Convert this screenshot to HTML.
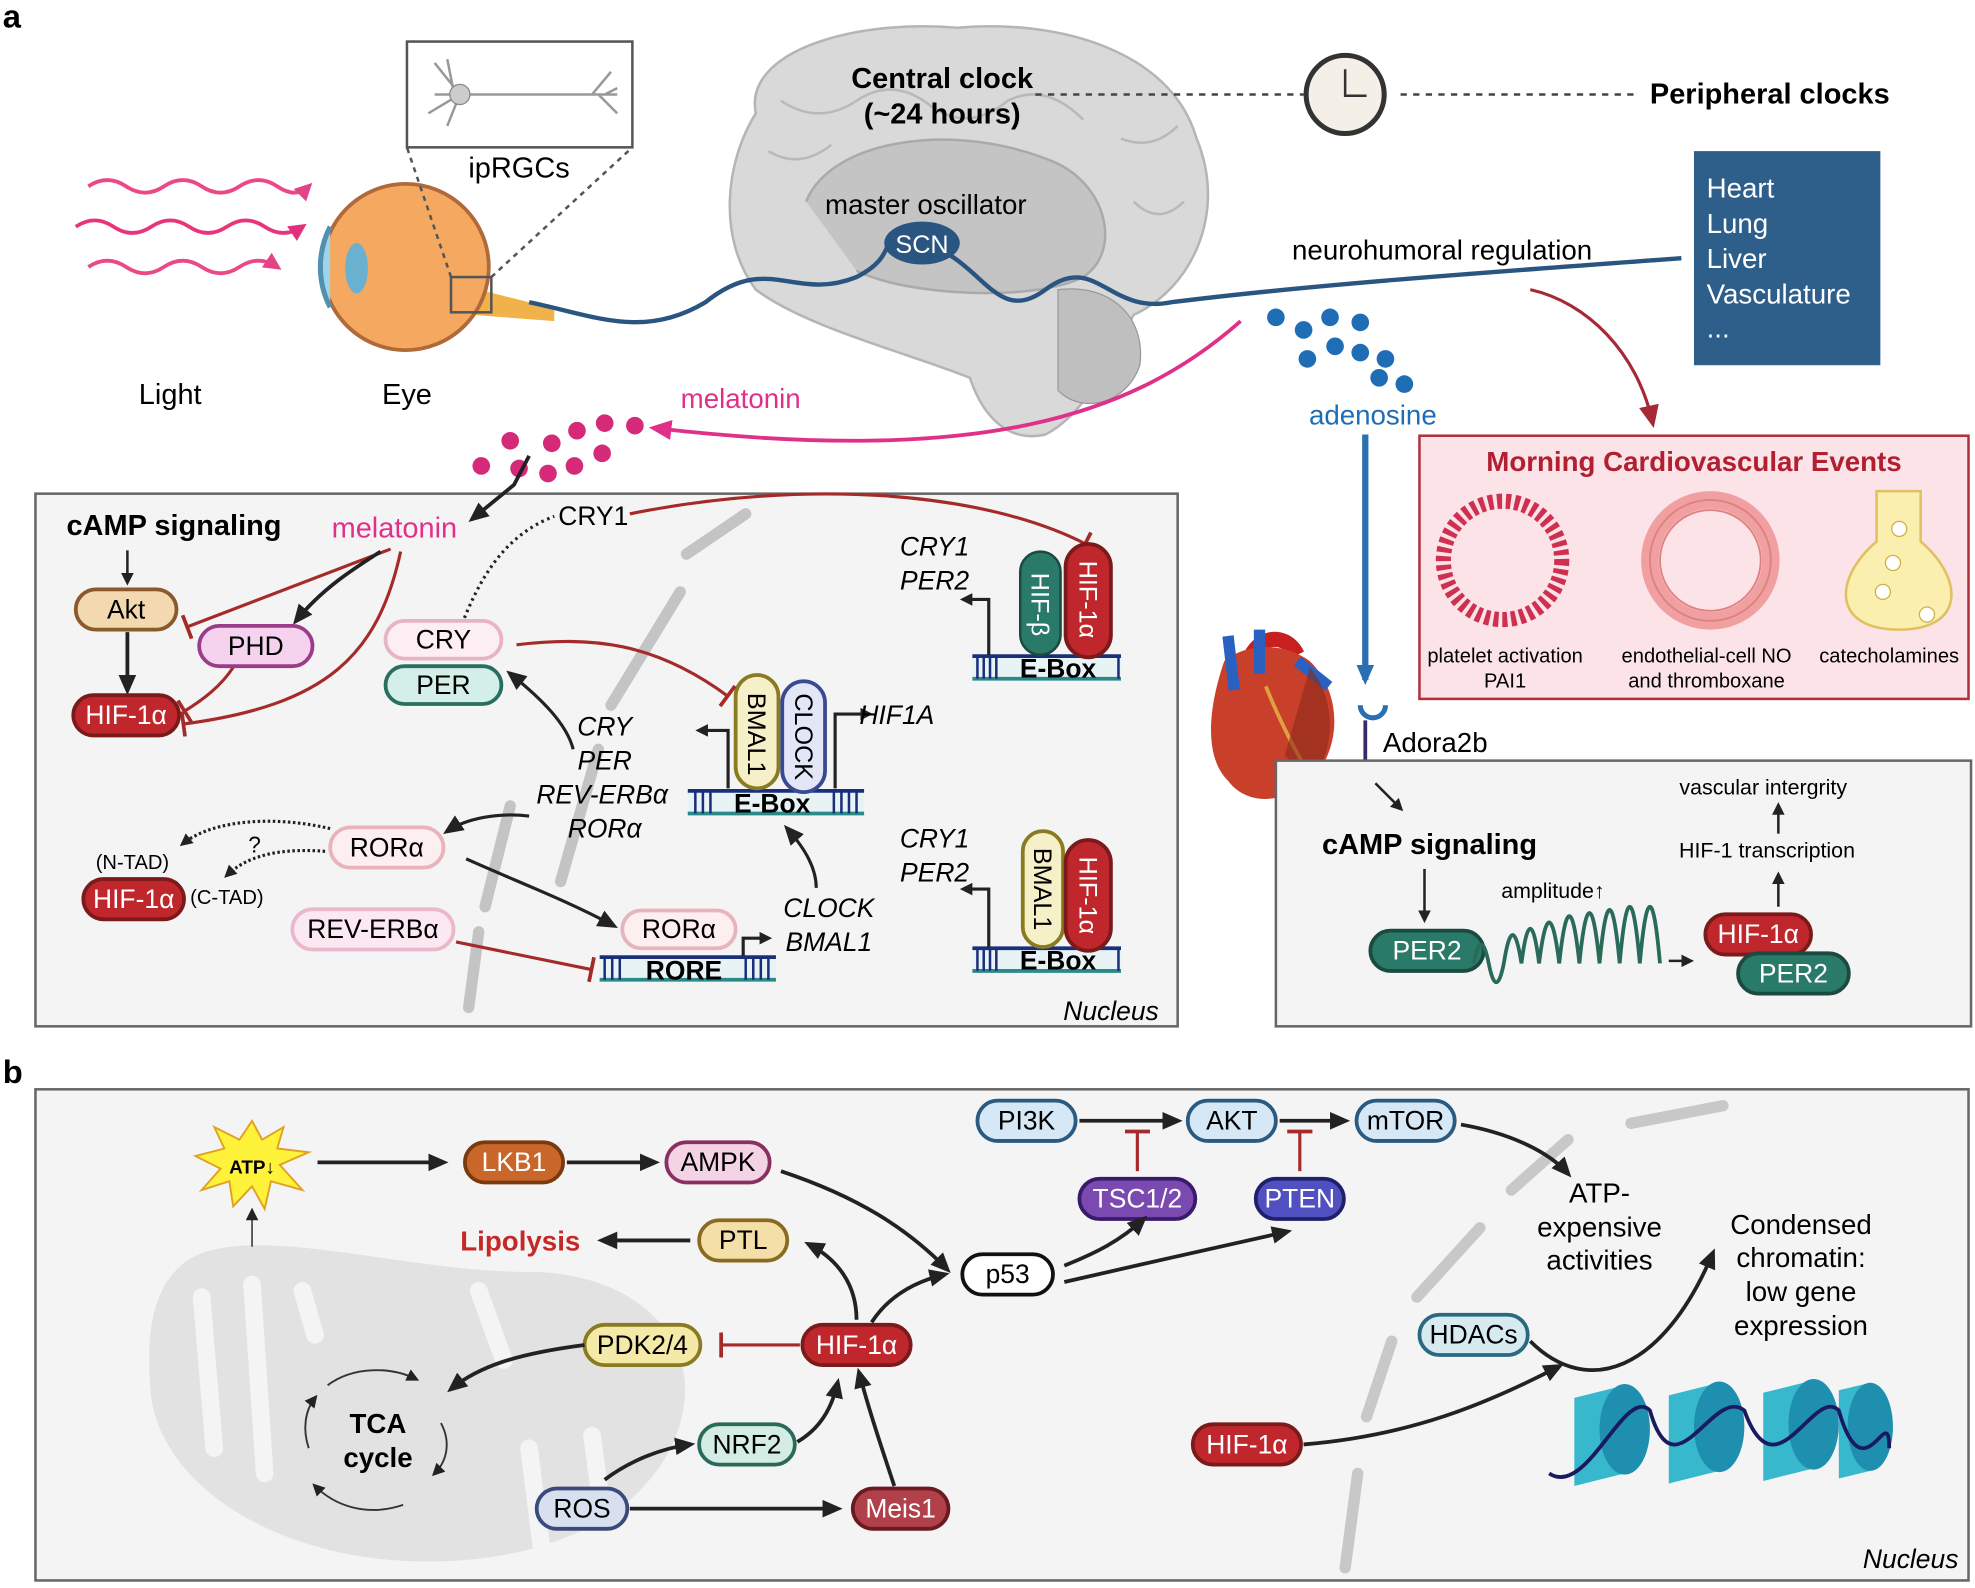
<!DOCTYPE html>
<html><head><meta charset="utf-8"><style>
html,body{margin:0;padding:0;background:#fff}
svg{display:block}
text{font-family:"Liberation Sans",sans-serif}
</style></head><body>
<svg width="1975" height="1588" viewBox="0 0 1568 1261" xmlns="http://www.w3.org/2000/svg">
<defs>
<marker id="ab" markerWidth="10" markerHeight="10" refX="7" refY="5" orient="auto" markerUnits="userSpaceOnUse"><path d="M0,0 L10,5 L0,10 z" fill="#222"/></marker>
<marker id="abig" markerWidth="16" markerHeight="16" refX="12" refY="8" orient="auto" markerUnits="userSpaceOnUse"><path d="M0,1 L16,8 L0,15 z" fill="#222"/></marker>
<marker id="ar" markerWidth="18" markerHeight="18" refX="13" refY="9" orient="auto" markerUnits="userSpaceOnUse"><path d="M0,1 L18,9 L0,17 z" fill="#a52a35"/></marker>
<marker id="ap" markerWidth="18" markerHeight="18" refX="13" refY="9" orient="auto" markerUnits="userSpaceOnUse"><path d="M0,1 L18,9 L0,17 z" fill="#e0308a"/></marker>
<marker id="apk" markerWidth="14" markerHeight="14" refX="10" refY="7" orient="auto" markerUnits="userSpaceOnUse"><path d="M0,0 L14,7 L0,14 z" fill="#e0307a"/></marker>
<marker id="abl" markerWidth="16" markerHeight="16" refX="12" refY="8" orient="auto" markerUnits="userSpaceOnUse"><path d="M0,1 L16,8 L0,15 z" fill="#2a6fb0"/></marker>
<marker id="ib" markerWidth="4" markerHeight="20" refX="2" refY="10" orient="auto" markerUnits="userSpaceOnUse"><rect x="0" y="0" width="3" height="20" fill="#a52a2a"/></marker>
</defs>

<text x="2" y="22" font-size="26" font-weight="bold">a</text>
<text x="2" y="860" font-size="26" font-weight="bold">b</text>

<g fill="none" stroke-width="3" stroke="#e8357a">
<path d="M70,148 q15,-10 30,0 t30,0 t30,0 t30,0 t30,0 t25,0" marker-end="url(#apk)" opacity="0.9"/>
<path d="M60,180 q15,-10 30,0 t30,0 t30,0 t30,0 t30,0 t30,0" marker-end="url(#apk)"/>
<path d="M70,212 q15,-10 30,0 t30,0 t30,0 t30,0 t30,0" marker-end="url(#apk)" opacity="0.9"/>
</g>
<text x="135" y="321" font-size="23" text-anchor="middle">Light</text>

<path d="M380,230 L440,245 L440,255 L375,250 z" fill="#f2b24a"/>
<circle cx="322" cy="212" r="66" fill="#f4a860" stroke="#b06a3a" stroke-width="3"/>
<path d="M262,180 a70,70 0 0 0 0,64" fill="#9fd4e8" stroke="#5090b0" stroke-width="4"/>
<ellipse cx="283" cy="213" rx="9" ry="20" fill="#6ab0d0"/>
<rect x="358" y="220" width="32" height="28" fill="none" stroke="#555" stroke-width="2"/>
<line x1="358" y1="220" x2="323" y2="117" stroke="#555" stroke-dasharray="4,4" stroke-width="2"/>
<line x1="390" y1="220" x2="502" y2="117" stroke="#555" stroke-dasharray="4,4" stroke-width="2"/>
<rect x="323" y="33" width="179" height="84" fill="#fff" stroke="#555" stroke-width="2"/>
<g stroke="#999" stroke-width="2" fill="none">
<path d="M345,75 L490,75 M365,75 l-20,-25 M365,75 l-25,15 M365,75 l-10,25 M360,72 l-5,-25 M470,75 l15,-18 M475,75 l15,15 M480,75 l10,-5"/>
</g>
<circle cx="365" cy="75" r="8" fill="#ccc" stroke="#888"/>
<text x="412" y="141" font-size="23" text-anchor="middle">ipRGCs</text>
<text x="323" y="321" font-size="23" text-anchor="middle">Eye</text>

<path d="M600,90 C590,40 680,15 760,22 C840,15 930,40 950,110 C975,170 945,230 900,250 C880,290 860,330 830,345 C800,352 780,330 770,300 C720,280 640,260 600,230 C570,190 575,130 600,90 z" fill="#d9d9d9" stroke="#b5b5b5" stroke-width="2"/>
<path d="M640,160 C660,110 760,95 840,130 C880,150 890,200 860,220 C820,240 720,235 680,215" fill="#c4c4c4" stroke="#aaa" stroke-width="2"/>
<path d="M840,230 C880,225 910,250 905,290 C895,320 860,330 840,310 z" fill="#bfbfbf" stroke="#999"/>
<g stroke="#b9b9b9" stroke-width="2" fill="none">
<path d="M620,80 q30,20 60,0 q30,-20 60,5 q30,20 60,-5 q30,-15 60,15"/>
<path d="M610,120 q25,15 50,-5"/><path d="M900,160 q20,20 40,0"/><path d="M890,110 q25,10 45,-10"/>
</g>
<text x="748" y="70" font-size="23" font-weight="bold" text-anchor="middle">Central clock</text>
<text x="748" y="98" font-size="23" font-weight="bold" text-anchor="middle">(~24 hours)</text>
<line x1="822" y1="75" x2="1035" y2="75" stroke="#444" stroke-width="2" stroke-dasharray="5,5"/>
<circle cx="1068" cy="75" r="31" fill="#f4f0e8" stroke="#333" stroke-width="4"/>
<path d="M1068,55 L1068,76 L1085,76" stroke="#333" stroke-width="2" fill="none"/>
<line x1="1112" y1="75" x2="1300" y2="75" stroke="#444" stroke-width="2" stroke-dasharray="5,5"/>
<text x="1310" y="82" font-size="23" font-weight="bold">Peripheral clocks</text>
<text x="735" y="170" font-size="22" text-anchor="middle">master oscillator</text>

<path d="M420,240 C470,250 510,270 560,240 C610,200 630,240 680,220 C720,200 690,180 732,193 C780,205 790,260 830,230 C870,200 880,250 930,240 C1050,225 1200,215 1335,205" fill="none" stroke="#2a5580" stroke-width="3.5"/>
<ellipse cx="732" cy="193" rx="30" ry="17" fill="#2a5580"/>
<text x="732" y="201" font-size="20" fill="#fff" text-anchor="middle">SCN</text>
<text x="1145" y="206" font-size="22" text-anchor="middle">neurohumoral regulation</text>

<rect x="1345" y="120" width="148" height="170" fill="#2d5f8a"/>
<g font-size="22" fill="#fff"><text x="1355" y="157">Heart</text><text x="1355" y="185">Lung</text><text x="1355" y="213">Liver</text><text x="1355" y="241">Vasculature</text><text x="1355" y="268">...</text></g>
<path d="M1215,230 C1260,240 1300,280 1312,335" fill="none" stroke="#a52a35" stroke-width="2.5" marker-end="url(#ar)"/>

<g fill="#1e6db5">
<circle cx="1013" cy="252" r="7"/><circle cx="1035" cy="262" r="7"/><circle cx="1056" cy="252" r="7"/><circle cx="1080" cy="256" r="7"/>
<circle cx="1038" cy="285" r="7"/><circle cx="1060" cy="275" r="7"/><circle cx="1080" cy="280" r="7"/><circle cx="1100" cy="285" r="7"/>
<circle cx="1095" cy="300" r="7"/><circle cx="1115" cy="305" r="7"/>
</g>
<text x="1090" y="337" font-size="22" fill="#1e6db5" text-anchor="middle">adenosine</text>
<line x1="1084" y1="345" x2="1084" y2="540" stroke="#2a6fb0" stroke-width="5" marker-end="url(#abl)"/>

<path d="M985,255 C900,330 780,370 520,340" fill="none" stroke="#e0308a" stroke-width="3" marker-end="url(#ap)"/>
<text x="588" y="324" font-size="22" fill="#e0308a" text-anchor="middle">melatonin</text>
<g fill="#d42a78">
<circle cx="405" cy="350" r="7"/><circle cx="438" cy="352" r="7"/><circle cx="458" cy="342" r="7"/><circle cx="480" cy="336" r="7"/><circle cx="504" cy="338" r="7"/>
<circle cx="382" cy="370" r="7"/><circle cx="412" cy="372" r="7"/><circle cx="435" cy="376" r="7"/><circle cx="456" cy="370" r="7"/><circle cx="478" cy="360" r="7"/>
</g>

<rect x="28" y="392" width="907" height="423" fill="#f4f4f4" stroke="#666" stroke-width="2"/>
<g stroke="#c4c4c4" stroke-width="9" stroke-linecap="round" fill="none">
<path d="M592,408 L545,440"/><path d="M540,470 L485,560"/><path d="M475,595 L445,700"/><path d="M405,640 L385,720"/>
</g>
<line x1="380" y1="740" x2="372" y2="800" stroke="#c4c4c4" stroke-width="9" stroke-linecap="round"/>
<text x="920" y="810" font-size="21" font-style="italic" text-anchor="end">Nucleus</text>

<text x="138" y="425" font-size="23" font-weight="bold" text-anchor="middle">cAMP signaling</text>
<text x="313" y="427" font-size="23" fill="#e0308a" text-anchor="middle">melatonin</text>
<path d="M420,362 L408,385 L375,412" fill="none" stroke="#222" stroke-width="3" marker-end="url(#abig)"/>
<line x1="101" y1="437" x2="101" y2="462" stroke="#222" stroke-width="2" marker-end="url(#ab)"/>
<line x1="101" y1="502" x2="101" y2="548" stroke="#222" stroke-width="3" marker-end="url(#abig)"/>
<path d="M310,436 L148,498" stroke="#a52a2a" stroke-width="2.5" fill="none" marker-end="url(#ib)"/>
<path d="M302,438 C280,452 255,468 235,493" stroke="#222" stroke-width="3" fill="none" marker-end="url(#abig)"/>
<path d="M318,438 C300,520 260,560 145,575" stroke="#a52a2a" stroke-width="2.5" fill="none" marker-end="url(#ib)"/>
<path d="M185,530 C175,545 162,555 146,565" stroke="#a52a2a" stroke-width="2.5" fill="none" marker-end="url(#ib)"/>

<path d="M365,500 C380,460 400,425 440,410" fill="none" stroke="#222" stroke-width="2.5" stroke-dasharray="2,3"/>
<text x="471" y="417" font-size="21" text-anchor="middle">CRY1</text>
<path d="M500,408 C640,380 780,390 862,432" fill="none" stroke="#a52a2a" stroke-width="2.5" marker-end="url(#ib)"/>

<g font-size="21" text-anchor="middle">
<rect x="60" y="468" width="80" height="32" rx="16" fill="#f3d9b0" stroke="#8a5a2a" stroke-width="3"/><text x="100" y="491">Akt</text>
<rect x="58" y="552" width="84" height="32" rx="16" fill="#c0272d" stroke="#7a1a1a" stroke-width="3"/><text x="100" y="575" fill="#fff">HIF-1α</text>
<rect x="158" y="497" width="90" height="32" rx="16" fill="#f5d3ee" stroke="#9b3c8a" stroke-width="3"/><text x="203" y="520">PHD</text>
<rect x="306" y="493" width="92" height="30" rx="15" fill="#fdeef3" stroke="#e8b4c4" stroke-width="3"/><text x="352" y="515">CRY</text>
<rect x="306" y="529" width="92" height="30" rx="15" fill="#d4efe8" stroke="#2a6e60" stroke-width="3"/><text x="352" y="551">PER</text>
<rect x="262" y="657" width="90" height="32" rx="16" fill="#fdeef0" stroke="#e8b4bc" stroke-width="3"/><text x="307" y="680">RORα</text>
<rect x="232" y="722" width="128" height="32" rx="16" fill="#fbe8f0" stroke="#eab8cc" stroke-width="3"/><text x="296" y="745">REV-ERBα</text>
<rect x="66" y="698" width="80" height="32" rx="16" fill="#c0272d" stroke="#7a1a1a" stroke-width="3"/><text x="106" y="721" fill="#fff">HIF-1α</text>
<rect x="494" y="723" width="90" height="30" rx="15" fill="#fdeef0" stroke="#e8b4bc" stroke-width="3"/><text x="539" y="745">RORα</text>
</g>
<text x="105" y="690" font-size="16" text-anchor="middle">(N-TAD)</text>
<text x="180" y="718" font-size="16" text-anchor="middle">(C-TAD)</text>
<text x="202" y="677" font-size="18" text-anchor="middle">?</text>
<path d="M262,658 C220,648 170,650 145,670" fill="none" stroke="#222" stroke-width="2.5" stroke-dasharray="2,2" marker-end="url(#ab)"/>
<path d="M258,676 C230,674 200,676 180,695" fill="none" stroke="#222" stroke-width="2.5" stroke-dasharray="2,2" marker-end="url(#ab)"/>

<g>
<rect x="546" y="628" width="140" height="18" fill="#e8f3f6"/>
<line x1="546" y1="628" x2="686" y2="628" stroke="#1a2f7a" stroke-width="3"/>
<line x1="546" y1="646" x2="686" y2="646" stroke="#2a8a8a" stroke-width="3"/>
<g stroke="#1a2f7a" stroke-width="2"><path d="M552,628v18M558,628v18M564,628v18M662,628v18M668,628v18M674,628v18M680,628v18"/></g>
<text x="613" y="645" font-size="21" font-weight="bold" text-anchor="middle">E-Box</text>
<rect x="584" y="536" width="34" height="90" rx="17" fill="#f5f0c8" stroke="#8a7a20" stroke-width="3"/>
<text transform="translate(594,583) rotate(90)" font-size="20" text-anchor="middle">BMAL1</text>
<rect x="621" y="541" width="34" height="88" rx="17" fill="#e2e6f7" stroke="#3a4a90" stroke-width="3"/>
<text transform="translate(631,585) rotate(90)" font-size="20" text-anchor="middle">CLOCK</text>
<path d="M578,626 L578,580 L555,580" fill="none" stroke="#222" stroke-width="2.5" marker-end="url(#ab)"/>
<path d="M663,626 L663,567 L690,567" fill="none" stroke="#222" stroke-width="2.5" marker-end="url(#ab)"/>
<text x="712" y="575" font-size="21" font-style="italic" text-anchor="middle">HIF1A</text>

<rect x="772" y="521" width="118" height="18" fill="#e8f3f6"/>
<line x1="772" y1="521" x2="890" y2="521" stroke="#1a2f7a" stroke-width="3"/>
<line x1="772" y1="539" x2="890" y2="539" stroke="#2a8a8a" stroke-width="3"/>
<g stroke="#1a2f7a" stroke-width="2"><path d="M776,521v18M781,521v18M786,521v18M791,521v18M888,521v18"/></g>
<text x="840" y="538" font-size="21" font-weight="bold" text-anchor="middle">E-Box</text>
<rect x="810" y="438" width="32" height="82" rx="16" fill="#2a7a6a" stroke="#1a4a40" stroke-width="2"/>
<text transform="translate(819,480) rotate(90)" font-size="20" fill="#fff" text-anchor="middle">HIF-β</text>
<rect x="846" y="432" width="36" height="90" rx="18" fill="#c0272d" stroke="#7a1a1a" stroke-width="3"/>
<text transform="translate(857,476) rotate(90)" font-size="20" fill="#fff" text-anchor="middle">HIF-1α</text>
<path d="M785,520 L785,476 L765,476" fill="none" stroke="#222" stroke-width="2.5" marker-end="url(#ab)"/>
<text x="742" y="441" font-size="21" font-style="italic" text-anchor="middle">CRY1</text>
<text x="742" y="468" font-size="21" font-style="italic" text-anchor="middle">PER2</text>

<rect x="772" y="753" width="118" height="18" fill="#e8f3f6"/>
<line x1="772" y1="753" x2="890" y2="753" stroke="#1a2f7a" stroke-width="3"/>
<line x1="772" y1="771" x2="890" y2="771" stroke="#2a8a8a" stroke-width="3"/>
<g stroke="#1a2f7a" stroke-width="2"><path d="M776,753v18M781,753v18M786,753v18M791,753v18M888,753v18"/></g>
<text x="840" y="770" font-size="21" font-weight="bold" text-anchor="middle">E-Box</text>
<rect x="812" y="660" width="32" height="92" rx="16" fill="#f5f0c8" stroke="#8a7a20" stroke-width="3"/>
<text transform="translate(821,706) rotate(90)" font-size="20" text-anchor="middle">BMAL1</text>
<rect x="846" y="667" width="36" height="88" rx="18" fill="#c0272d" stroke="#7a1a1a" stroke-width="3"/>
<text transform="translate(857,711) rotate(90)" font-size="20" fill="#fff" text-anchor="middle">HIF-1α</text>
<path d="M785,752 L785,706 L765,706" fill="none" stroke="#222" stroke-width="2.5" marker-end="url(#ab)"/>
<text x="742" y="673" font-size="21" font-style="italic" text-anchor="middle">CRY1</text>
<text x="742" y="700" font-size="21" font-style="italic" text-anchor="middle">PER2</text>

<rect x="476" y="760" width="140" height="18" fill="#e8f3f6"/>
<line x1="476" y1="760" x2="616" y2="760" stroke="#1a2f7a" stroke-width="3"/>
<line x1="476" y1="778" x2="616" y2="778" stroke="#2a8a8a" stroke-width="3"/>
<g stroke="#1a2f7a" stroke-width="2"><path d="M480,760v18M486,760v18M492,760v18M592,760v18M598,760v18M604,760v18M610,760v18"/></g>
<text x="543" y="778" font-size="21" font-weight="bold" text-anchor="middle">RORE</text>
<path d="M590,759 L590,745 L610,745" fill="none" stroke="#222" stroke-width="2.5" marker-end="url(#ab)"/>
</g>

<path d="M410,512 C470,505 520,510 578,553" fill="none" stroke="#a52a2a" stroke-width="2.5" marker-end="url(#ib)"/>
<path d="M455,595 C450,575 430,555 405,535" fill="none" stroke="#222" stroke-width="2.5" marker-end="url(#abig)"/>
<g font-size="21" font-style="italic" text-anchor="middle"><text x="480" y="584">CRY</text><text x="480" y="611">PER</text><text x="478" y="638">REV-ERBα</text><text x="480" y="665">RORα</text></g>
<path d="M420,648 C395,645 370,650 355,660" fill="none" stroke="#222" stroke-width="2.5" marker-end="url(#abig)"/>
<path d="M370,682 C410,700 450,715 487,735" fill="none" stroke="#222" stroke-width="2.5" marker-end="url(#abig)"/>
<path d="M362,748 L470,770" fill="none" stroke="#a52a2a" stroke-width="2.5" marker-end="url(#ib)"/>
<text x="658" y="728" font-size="21" font-style="italic" text-anchor="middle">CLOCK</text>
<text x="658" y="755" font-size="21" font-style="italic" text-anchor="middle">BMAL1</text>
<path d="M648,705 C648,690 640,675 625,658" fill="none" stroke="#222" stroke-width="2.5" marker-end="url(#abig)"/>

<rect x="1127" y="346" width="436" height="209" fill="#fbe3e8" stroke="#b03040" stroke-width="2"/>
<text x="1345" y="374" font-size="22" font-weight="bold" fill="#b02030" text-anchor="middle">Morning Cardiovascular Events</text>
<circle cx="1193" cy="445" r="47" fill="none" stroke="#d03050" stroke-width="12" stroke-dasharray="4,3"/>
<circle cx="1358" cy="445" r="48" fill="none" stroke="#f0a0a0" stroke-width="14"/>
<circle cx="1358" cy="445" r="48" fill="none" stroke="#e08080" stroke-width="1.5"/>
<circle cx="1358" cy="445" r="40" fill="#fbe3e8" stroke="#e08080" stroke-width="1.5"/>
<path d="M1490,390 L1525,390 L1525,430 C1560,460 1560,500 1508,500 C1455,500 1455,460 1490,430 z" fill="#fbefb0" stroke="#e0c060" stroke-width="2"/>
<g fill="#fff" stroke="#d0b040"><circle cx="1508" cy="420" r="6"/><circle cx="1503" cy="447" r="6"/><circle cx="1495" cy="470" r="6"/><circle cx="1530" cy="488" r="6"/></g>
<g font-size="16" text-anchor="middle"><text x="1195" y="526">platelet activation</text><text x="1195" y="546">PAI1</text>
<text x="1355" y="526">endothelial-cell NO</text><text x="1355" y="546">and thromboxane</text><text x="1500" y="526">catecholamines</text></g>

<!-- heart -->
<path d="M990,530 C995,505 1020,500 1030,520" fill="none" stroke="#c82020" stroke-width="12"/>
<path d="M972,525 C960,560 955,600 975,620 C990,640 1020,640 1045,615 C1065,590 1065,550 1040,525 C1020,510 990,510 972,525 z" fill="#c8402a"/>
<path d="M975,505 L980,548 M1000,500 L1000,535 M1030,525 L1055,545" stroke="#2a60c0" stroke-width="9" fill="none"/>
<path d="M1005,545 C1015,570 1030,600 1040,615" stroke="#e0a040" stroke-width="3" fill="none"/>
<path d="M1040,530 C1062,555 1060,600 1040,620 L1020,600 z" fill="#8a2a1a" opacity="0.6"/>
<path d="M1080,560 a10,10 0 0 0 20,0" fill="none" stroke="#2a6fb0" stroke-width="4"/>
<line x1="1084" y1="572" x2="1084" y2="625" stroke="#3a2a6a" stroke-width="3"/>
<text x="1098" y="597" font-size="22">Adora2b</text>

<rect x="1013" y="604" width="552" height="211" fill="#f4f4f4" stroke="#666" stroke-width="2"/>
<line x1="1092" y1="622" x2="1112" y2="642" stroke="#222" stroke-width="2" marker-end="url(#ab)"/>
<text x="1135" y="678" font-size="23" font-weight="bold" text-anchor="middle">cAMP signaling</text>
<line x1="1131" y1="690" x2="1131" y2="730" stroke="#222" stroke-width="2" marker-end="url(#ab)"/>
<rect x="1088" y="739" width="90" height="32" rx="16" fill="#2a7a6a" stroke="#1a4a40" stroke-width="3"/>
<text x="1133" y="762" font-size="21" fill="#fff" text-anchor="middle">PER2</text>
<path d="M1170,765 q6,-30 12,0 t12,0 q7,-45 14,0 q7,-55 14,0 q8,-65 16,0 q8,-75 16,0 q8,-80 16,0 q8,-85 16,0 q8,-90 16,0 q8,-90 16,0" fill="none" stroke="#2a6a5a" stroke-width="3"/>
<line x1="1325" y1="763" x2="1342" y2="763" stroke="#222" stroke-width="2" marker-end="url(#ab)"/>
<text x="1233" y="713" font-size="17" text-anchor="middle">amplitude↑</text>
<rect x="1354" y="726" width="84" height="32" rx="16" fill="#c0272d" stroke="#7a1a1a" stroke-width="3"/>
<text x="1396" y="749" font-size="21" fill="#fff" text-anchor="middle">HIF-1α</text>
<rect x="1380" y="757" width="88" height="32" rx="16" fill="#2a7a6a" stroke="#1a4a40" stroke-width="3"/>
<text x="1424" y="780" font-size="21" fill="#fff" text-anchor="middle">PER2</text>
<line x1="1412" y1="720" x2="1412" y2="695" stroke="#222" stroke-width="2" marker-end="url(#ab)"/>
<text x="1403" y="681" font-size="17" text-anchor="middle">HIF-1 transcription</text>
<line x1="1412" y1="662" x2="1412" y2="640" stroke="#222" stroke-width="2" marker-end="url(#ab)"/>
<text x="1400" y="631" font-size="17" text-anchor="middle">vascular intergrity</text>

<rect x="28" y="865" width="1535" height="390" fill="#f4f4f4" stroke="#666" stroke-width="2"/>
<path d="M150,1000 C200,970 320,1010 420,1010 C500,1010 560,1060 540,1130 C520,1200 440,1240 340,1240 C220,1240 130,1180 120,1110 C115,1060 120,1020 150,1000 z" fill="#e2e2e2"/>
<path d="M160,1030 L170,1150 M200,1020 L210,1170 M240,1025 L250,1060 M420,1150 L430,1230 M470,1140 L480,1215 M380,1025 L400,1080" stroke="#f4f4f4" stroke-width="14" stroke-linecap="round"/>
<g stroke="#c8c8c8" stroke-width="9" stroke-linecap="round" fill="none">
<path d="M1368,878 L1295,892"/><path d="M1245,905 L1200,945"/><path d="M1175,975 L1125,1030"/><path d="M1105,1065 L1085,1125"/><path d="M1078,1170 L1068,1245"/>
</g>
<text x="1555" y="1245" font-size="21" font-style="italic" text-anchor="end">Nucleus</text>

<polygon points="200,890 208,905 225,895 220,912 245,915 222,925 240,945 215,938 210,960 200,942 185,958 182,938 160,945 175,928 155,918 178,912 170,895 190,905" fill="#fff23a" stroke="#e0a020" stroke-width="1.5"/>
<text x="200" y="932" font-size="15" font-weight="bold" text-anchor="middle">ATP↓</text>
<line x1="200" y1="990" x2="200" y2="962" stroke="#555" stroke-width="1.5" marker-end="url(#ab)"/>
<line x1="252" y1="923" x2="352" y2="923" stroke="#222" stroke-width="3" marker-end="url(#abig)"/>
<line x1="450" y1="923" x2="520" y2="923" stroke="#222" stroke-width="3" marker-end="url(#abig)"/>

<g font-size="21" text-anchor="middle">
<rect x="369" y="907" width="78" height="32" rx="16" fill="#c9662a" stroke="#7a3a10" stroke-width="3"/><text x="408" y="930" fill="#fff">LKB1</text>
<rect x="529" y="907" width="82" height="32" rx="16" fill="#f3d3e4" stroke="#8a3060" stroke-width="3"/><text x="570" y="930">AMPK</text>
<rect x="555" y="969" width="70" height="32" rx="16" fill="#f5dfa8" stroke="#8a6a20" stroke-width="3"/><text x="590" y="992">PTL</text>
<rect x="764" y="996" width="72" height="32" rx="16" fill="#fff" stroke="#111" stroke-width="3"/><text x="800" y="1019">p53</text>
<rect x="637" y="1052" width="86" height="32" rx="16" fill="#c0272d" stroke="#7a1a1a" stroke-width="3"/><text x="680" y="1075" fill="#fff">HIF-1α</text>
<rect x="464" y="1052" width="92" height="32" rx="16" fill="#f5e9a8" stroke="#8a7a20" stroke-width="3"/><text x="510" y="1075">PDK2/4</text>
<rect x="555" y="1131" width="76" height="32" rx="16" fill="#d4ede4" stroke="#2a6a5a" stroke-width="3"/><text x="593" y="1154">NRF2</text>
<rect x="677" y="1182" width="76" height="32" rx="16" fill="#b0404a" stroke="#6a1a20" stroke-width="3"/><text x="715" y="1205" fill="#fff">Meis1</text>
<rect x="426" y="1182" width="72" height="32" rx="16" fill="#d8e0f0" stroke="#3a4a7a" stroke-width="3"/><text x="462" y="1205">ROS</text>
<rect x="776" y="874" width="78" height="32" rx="16" fill="#d6e8f5" stroke="#2a5a80" stroke-width="3"/><text x="815" y="897">PI3K</text>
<rect x="943" y="874" width="70" height="32" rx="16" fill="#d6e8f5" stroke="#2a5a80" stroke-width="3"/><text x="978" y="897">AKT</text>
<rect x="1077" y="874" width="78" height="32" rx="16" fill="#d6e8f5" stroke="#2a5a80" stroke-width="3"/><text x="1116" y="897">mTOR</text>
<rect x="857" y="936" width="92" height="32" rx="16" fill="#7b4ab0" stroke="#3a1a6a" stroke-width="3"/><text x="903" y="959" fill="#fff">TSC1/2</text>
<rect x="997" y="936" width="70" height="32" rx="16" fill="#5050c0" stroke="#20206a" stroke-width="3"/><text x="1032" y="959" fill="#fff">PTEN</text>
<rect x="1127" y="1044" width="86" height="32" rx="16" fill="#d6eaf0" stroke="#2a6a80" stroke-width="3"/><text x="1170" y="1067">HDACs</text>
<rect x="947" y="1131" width="86" height="32" rx="16" fill="#c0272d" stroke="#7a1a1a" stroke-width="3"/><text x="990" y="1154" fill="#fff">HIF-1α</text>
</g>
<text x="413" y="993" font-size="22" font-weight="bold" fill="#c62828" text-anchor="middle">Lipolysis</text>
<line x1="548" y1="985" x2="478" y2="985" stroke="#222" stroke-width="3" marker-end="url(#abig)"/>
<path d="M620,930 C680,950 720,975 752,1008" fill="none" stroke="#222" stroke-width="3" marker-end="url(#abig)"/>
<path d="M680,1048 C680,1020 665,1000 642,988" fill="none" stroke="#222" stroke-width="3" marker-end="url(#abig)"/>
<path d="M692,1050 C705,1030 725,1018 750,1012" fill="none" stroke="#222" stroke-width="3" marker-end="url(#abig)"/>
<line x1="635" y1="1068" x2="572" y2="1068" stroke="#a52a2a" stroke-width="2.5" marker-end="url(#ib)"/>
<path d="M464,1068 C410,1075 380,1085 358,1103" fill="none" stroke="#222" stroke-width="3" marker-end="url(#abig)"/>
<path d="M480,1175 C500,1160 525,1150 548,1147" fill="none" stroke="#222" stroke-width="3" marker-end="url(#abig)"/>
<line x1="500" y1="1198" x2="665" y2="1198" stroke="#222" stroke-width="3" marker-end="url(#abig)"/>
<path d="M633,1145 C650,1135 660,1120 665,1098" fill="none" stroke="#222" stroke-width="3" marker-end="url(#abig)"/>
<path d="M710,1180 C700,1150 690,1120 682,1090" fill="none" stroke="#222" stroke-width="3" marker-end="url(#abig)"/>
<text x="300" y="1138" font-size="22" font-weight="bold" text-anchor="middle">TCA</text>
<text x="300" y="1165" font-size="22" font-weight="bold" text-anchor="middle">cycle</text>
<g fill="none" stroke="#333" stroke-width="1.5"><path d="M260,1100 C280,1085 310,1085 330,1095" marker-end="url(#ab)"/><path d="M350,1130 C358,1145 355,1160 345,1170" marker-end="url(#ab)"/><path d="M320,1195 C290,1205 265,1195 250,1180" marker-end="url(#ab)"/><path d="M245,1150 C240,1135 242,1120 250,1110" marker-end="url(#ab)"/></g>

<line x1="857" y1="890" x2="935" y2="890" stroke="#222" stroke-width="3" marker-end="url(#abig)"/>
<line x1="1016" y1="890" x2="1068" y2="890" stroke="#222" stroke-width="3" marker-end="url(#abig)"/>
<line x1="903" y1="930" x2="903" y2="898" stroke="#a52a2a" stroke-width="2.5" marker-end="url(#ib)"/>
<line x1="1032" y1="930" x2="1032" y2="898" stroke="#a52a2a" stroke-width="2.5" marker-end="url(#ib)"/>
<path d="M845,1005 C870,995 890,985 908,968" fill="none" stroke="#222" stroke-width="3" marker-end="url(#abig)"/>
<path d="M845,1018 C900,1005 970,990 1022,978" fill="none" stroke="#222" stroke-width="3" marker-end="url(#abig)"/>
<path d="M1160,893 C1200,900 1230,915 1245,932" fill="none" stroke="#222" stroke-width="3" marker-end="url(#abig)"/>
<g font-size="22" text-anchor="middle"><text x="1270" y="955">ATP-</text><text x="1270" y="982">expensive</text><text x="1270" y="1008">activities</text>
<text x="1430" y="980">Condensed</text><text x="1430" y="1006">chromatin:</text><text x="1430" y="1033">low gene</text><text x="1430" y="1060">expression</text></g>
<path d="M1215,1065 C1260,1110 1320,1090 1360,995" fill="none" stroke="#222" stroke-width="3" marker-end="url(#abig)"/>
<path d="M1035,1147 C1120,1140 1180,1115 1238,1085" fill="none" stroke="#222" stroke-width="3" marker-end="url(#abig)"/>
<g>
<path d="M1250,1110 L1290,1100 L1290,1170 L1250,1180 z" fill="#37b8cc"/>
<ellipse cx="1290" cy="1135" rx="20" ry="36" fill="#1f8fb0"/>
<path d="M1325,1108 L1365,1098 L1365,1168 L1325,1178 z" fill="#37b8cc"/>
<ellipse cx="1365" cy="1133" rx="20" ry="36" fill="#1f8fb0"/>
<path d="M1400,1106 L1440,1096 L1440,1166 L1400,1176 z" fill="#37b8cc"/>
<ellipse cx="1440" cy="1131" rx="20" ry="36" fill="#1f8fb0"/>
<path d="M1460,1104 L1485,1098 L1485,1168 L1460,1174 z" fill="#37b8cc"/>
<ellipse cx="1485" cy="1133" rx="18" ry="35" fill="#1f8fb0"/>
<path d="M1230,1170 C1260,1190 1290,1100 1310,1120 C1330,1190 1360,1100 1385,1120 C1410,1190 1440,1100 1460,1120 C1480,1190 1500,1110 1500,1150" fill="none" stroke="#1a1a60" stroke-width="3"/>
</g>
</svg>
</body></html>
